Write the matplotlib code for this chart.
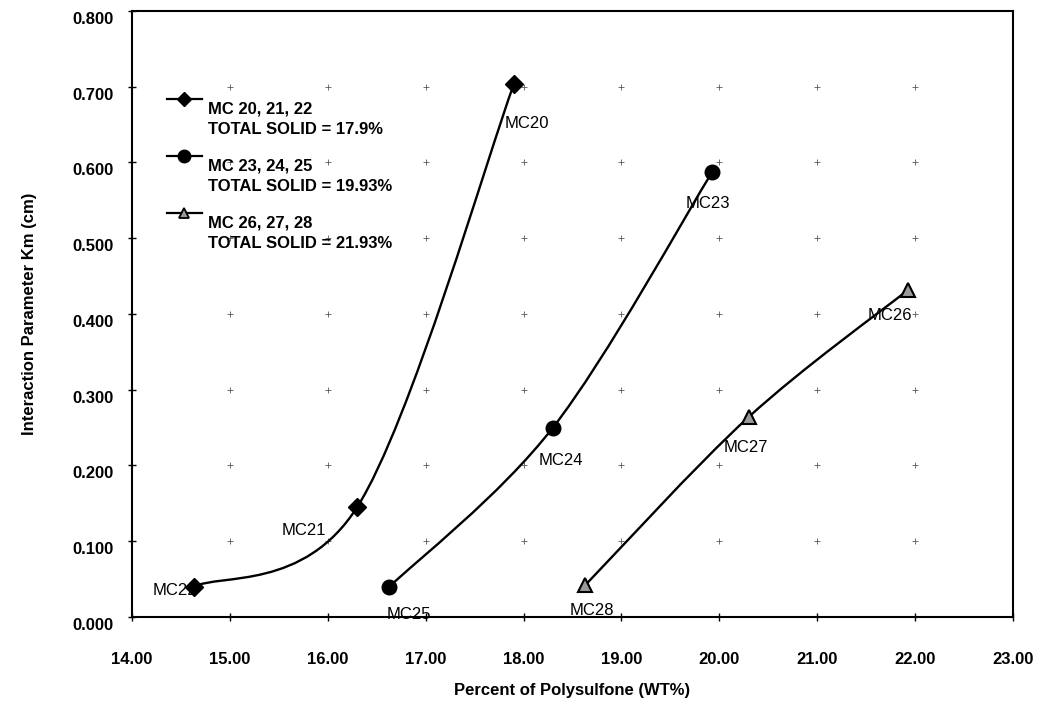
import numpy as np
import matplotlib
matplotlib.use("Agg")
from matplotlib import pyplot as plt
from matplotlib.path import Path
from matplotlib.patches import PathPatch
from matplotlib.transforms import ScaledTranslation

plt.rcParams.update({
    'font.family': ['Liberation Sans', 'DejaVu Sans'],
    'font.size': 12,
})

# data
x_s1 = [14.63, 16.30, 17.90]
y_s1 = [0.040, 0.145, 0.703]
lab_s1 = ["MC22", "MC21", "MC20"]

x_s2 = [16.63, 18.30, 19.93]
y_s2 = [0.040, 0.250, 0.588]
lab_s2 = ["MC25", "MC24", "MC23"]

x_s3 = [18.63, 20.30, 21.93]
y_s3 = [0.042, 0.264, 0.432]
lab_s3 = ["MC28", "MC27", "MC26"]

legend_text = [
    "MC 20, 21, 22\nTOTAL SOLID = 17.9%",
    "MC 23, 24, 25\nTOTAL SOLID = 19.93%",
    "MC 26, 27, 28\nTOTAL SOLID = 21.93%",
]

x_ticks = np.arange(14, 23.01, 1.0)
y_ticks = np.arange(0, 0.801, 0.1)


def smooth_path(x, y):
    # excel-like smoothed line (catmull-rom as bezier segments)
    pts = np.column_stack([x, y])
    n = len(pts)
    verts = [pts[0]]
    codes = [Path.MOVETO]
    for i in range(n - 1):
        p0 = pts[max(i - 1, 0)]
        p1 = pts[i]
        p2 = pts[i + 1]
        p3 = pts[min(i + 2, n - 1)]
        verts += [p1 + (p2 - p0) / 6, p2 - (p3 - p1) / 6, p2]
        codes += [Path.CURVE4] * 3
    return Path(verts, codes)


fig = plt.figure(figsize=(10.41, 7.04), dpi=100)
ax = fig.add_axes([0.1268, 0.1236, 0.8463, 0.8608])

# dotted "+" grid marks at tick intersections
gx, gy = np.meshgrid(x_ticks[1:-1], y_ticks[1:-1])
ax.plot(gx.ravel(), gy.ravel(), '+', ms=4, mew=0.6, color='0.35', zorder=1)

series = [
    (x_s1, y_s1, lab_s1, dict(marker='D', ms=9, mfc='black', mec='black')),
    (x_s2, y_s2, lab_s2, dict(marker='o', ms=10.5, mfc='black', mec='black')),
    (x_s3, y_s3, lab_s3, dict(marker='^', ms=10, mfc='#9a9a9a', mec='black', mew=1.5)),
]
# label offsets in pixels (dx, dy, ha)
offsets = [
    [(-41, -4, 'left'), (-31, -23, 'right'), (-9, -39, 'left')],
    [(-3, -28, 'left'), (-14, -33, 'left'), (-27, -32, 'left')],
    [(-16, -25, 'left'), (-25, -30, 'left'), (-41, -26, 'left')],
]

for (xs, ys, labs, mk), offs in zip(series, offsets):
    ax.add_patch(PathPatch(smooth_path(xs, ys), fill=False, lw=1.7, ec='black', zorder=2))
    ax.plot(xs, ys, linestyle='none', zorder=3, **mk)
    for xv, yv, lab, (dx, dy, ha) in zip(xs, ys, labs, offs):
        ax.annotate(lab, (xv, yv), xytext=(dx, dy), textcoords='offset pixels',
                    ha=ha, va='center', fontsize=12, zorder=4)

# legend drawn by hand so the handle sits at the first text line
leg_y = [0.855, 0.761, 0.667]
leg_mk = [
    dict(marker='D', ms=7, mfc='black', mec='black'),
    dict(marker='o', ms=9, mfc='black', mec='black'),
    dict(marker='^', ms=7, mfc='#9a9a9a', mec='black', mew=1.3),
]
for yl, txt, mk in zip(leg_y, legend_text, leg_mk):
    ax.plot([0.040, 0.079], [yl, yl], color='black', lw=1.6, transform=ax.transAxes)
    ax.plot([0.0595], [yl], transform=ax.transAxes, linestyle='none', **mk)
    ax.text(0.086, yl - 0.004, txt, transform=ax.transAxes, ha='left', va='top',
            fontsize=12, fontweight='bold', linespacing=1.45)

ax.set_xlim(14, 23)
ax.set_ylim(0, 0.8)
ax.set_xticks(x_ticks)
ax.set_yticks(y_ticks)
ax.set_xticklabels([f"{v:.2f}" for v in x_ticks], fontweight='bold', fontsize=12)
ax.set_yticklabels([f"{v:.3f}" for v in y_ticks], fontweight='bold', fontsize=12)
ax.tick_params(direction='inout', length=6, width=1)
ax.tick_params(axis='x', pad=22)
ax.tick_params(axis='y', pad=10)
# the y labels sit a little below their ticks in the original
shift = ScaledTranslation(0, -7 / 100, fig.dpi_scale_trans)
for lbl in ax.get_yticklabels():
    lbl.set_transform(lbl.get_transform() + shift)
for sp in ax.spines.values():
    sp.set_linewidth(1.5)

ax.set_xlabel("Percent of Polysulfone (WT%)", fontweight='bold', fontsize=12, labelpad=12)
ax.set_ylabel("Interaction Parameter Km (cm)", fontweight='bold', fontsize=12, labelpad=26)

fig.savefig("out.png", dpi=100)
